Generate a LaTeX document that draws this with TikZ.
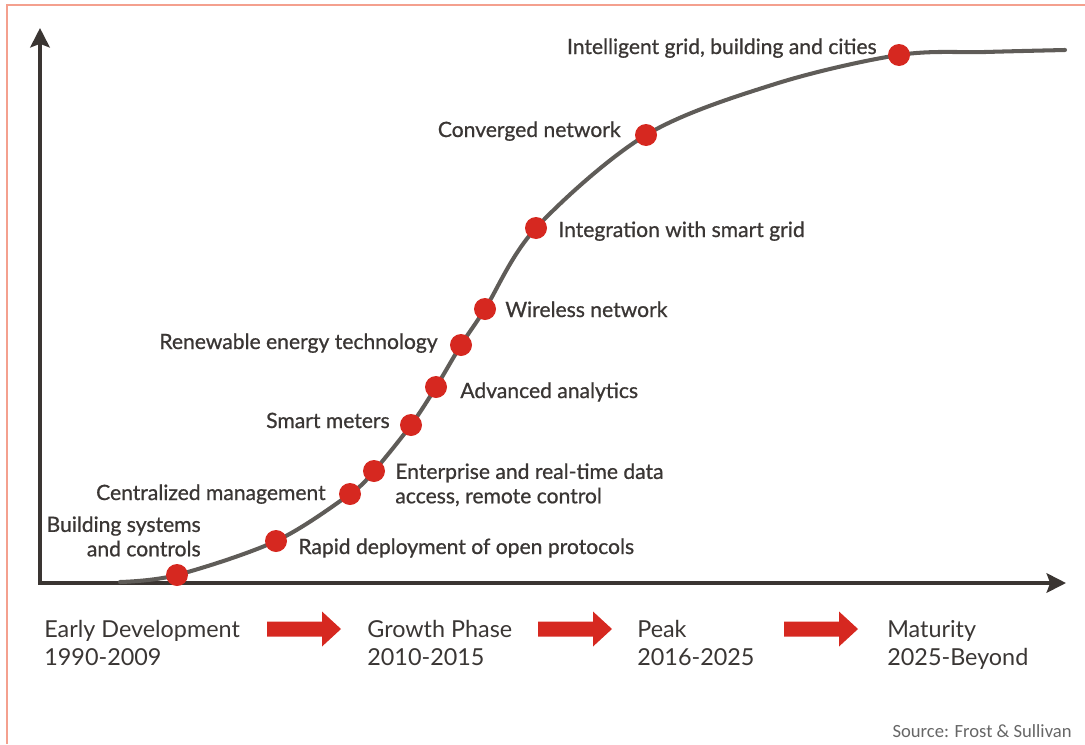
\documentclass[tikz,border=0pt]{standalone}
\usepackage{fontspec}
\setmainfont{Lato}
\newfontfamily\lblfont{Lato}[FakeBold=0.8]
\newfontfamily\srcfont{Carlito}
\usetikzlibrary{arrows.meta}
\definecolor{framec}{RGB}{244,160,142}
\definecolor{axisc}{RGB}{58,53,50}
\definecolor{curvec}{RGB}{95,92,88}
\definecolor{dotc}{RGB}{214,40,32}
\definecolor{inkc}{RGB}{58,54,52}

\begin{document}
\begin{tikzpicture}[x=0.02cm, y=-0.02cm, line cap=round,
    >={Stealth[length=11pt, width=11pt, inset=2pt]},
    dot/.style={circle, fill=dotc, inner sep=0pt, minimum size=0.44cm},
    lbl/.style={inkc, inner sep=0pt, font=\lblfont\fontsize{12}{13.9}\selectfont},
    phase/.style={inkc, inner sep=0pt, anchor=north west, align=left,
      font=\fontsize{13.3}{15.8}\selectfont},
    phasearrow/.pic={
      \fill[dotc] (0,-7.5) -- (55,-7.5) -- (55,-17.5) -- (74,0)
        -- (55,17.5) -- (55,7.5) -- (0,7.5) -- cycle;
    }]
  \useasboundingbox (0,0) rectangle (1085,744);

  % frame (top and left only)
  \draw[framec, line width=1.7pt, line cap=butt] (7,744) -- (7,5) -- (1085,5);

  % axes
  \coordinate (corner) at (40,583);
  \coordinate (ytip) at (40,28);
  \coordinate (xtip) at (1066,583);
  \draw[axisc, line width=2.8pt, line cap=butt, <->] (ytip) -- (corner) -- (xtip);

  % points on the adoption curve
  \coordinate (p0) at (120,582);
  \coordinate (p1) at (177,575);
  \coordinate (p2) at (276,541);
  \coordinate (p3) at (350,494);
  \coordinate (p4) at (374,471);
  \coordinate (p5) at (411,425);
  \coordinate (p6) at (436,387);
  \coordinate (p7) at (461,345);
  \coordinate (p8) at (485,309);
  \coordinate (p9) at (536,228);
  \coordinate (p10) at (646,135);
  \coordinate (q1) at (775,84);
  \coordinate (p11) at (899,55);
  \coordinate (q2) at (985,52);
  \coordinate (p12) at (1065,50);

  \draw[curvec, line width=2.3pt] plot[smooth, tension=0.55]
    coordinates {(p0) (p1) (p2) (p3) (p4) (p5) (p6) (p7) (p8) (p9) (p10) (q1) (p11) (q2) (p12)};

  \foreach \k in {1,...,11}{
    \node[dot] (d\k) at (p\k) {};
  }

  % milestone labels
  \node[lbl, anchor=base east] (t11) at (877,54) {Intelligent grid, building and cities};
  \node[lbl, anchor=base east] (t10) at (621,137) {Converged network};
  \node[lbl, anchor=base west] (t9) at (558,237) {Integration with smart grid};
  \node[lbl, anchor=base west] (t8) at (505,317) {Wireless network};
  \node[lbl, anchor=base east] (t7) at (438,349) {Renewable energy technology};
  \node[lbl, anchor=base west] (t6) at (460,398) {Advanced analytics};
  \node[lbl, anchor=base east] (t5) at (390,428) {Smart meters};
  \node[lbl, anchor=north west, align=left] (t4) at (395,463)
    {Enterprise and real-time data\\access, remote control};
  \node[lbl, anchor=base east] (t3) at (326,500) {Centralized management};
  \node[lbl, anchor=north east, align=right] (t1) at (201,516)
    {Building systems\\and controls};
  \node[lbl, anchor=base west] (t2) at (298,554) {Rapid deployment of open protocols};

  % phases along the time axis
  \node[phase] (ph1) at (44,620) {Early Development\\1990-2009};
  \node[phase] (ph2) at (367,620) {Growth Phase\\2010-2015};
  \node[phase] (ph3) at (637,620) {Peak\\2016-2025};
  \node[phase] (ph4) at (887,620) {Maturity\\2025-Beyond};
  \pic (a1) at (267,629) {phasearrow};
  \pic (a2) at (538,629) {phasearrow};
  \pic (a3) at (784,629) {phasearrow};

  \node[gray!80!black, inner sep=0pt, anchor=base east, font=\srcfont\fontsize{10.6}{12}\selectfont]
    (src) at (1072,737) {Source: Frost \& Sullivan};
\end{tikzpicture}
\end{document}
